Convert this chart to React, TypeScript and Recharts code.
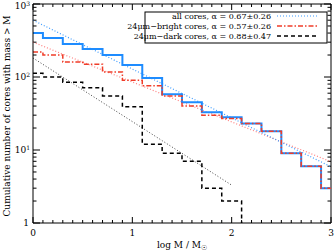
import React from "react";
import {
  LineChart,
  Line,
  XAxis,
  YAxis,
  ReferenceLine,
  Customized,
} from "recharts";

// lower edges of the log M bins (last entry closes the plot)
const binEdges = [0, 0.1, 0.3, 0.5, 0.7, 0.9, 1.1, 1.3, 1.5, 1.7, 1.9, 2.1, 2.3, 2.5, 2.7, 2.9, 3.0];
const allCores = [400, 342, 283, 242, 200, 146, 97, 58, 45, 33, 28, 23, 18, 9, 6, 3, 3];
const brightCores = [220, 200, 160, 150, 117, 90, 76, 55, 40, 30, 27, 23, 18, 9, 6, 3, 3];
const darkEdges = [0, 0.1, 0.3, 0.5, 0.7, 0.9, 1.1, 1.3, 1.5, 1.7, 1.9, 2.1];
const darkCores = [113, 100, 85, 71, 55, 39, 12, 9, 7, 3, 2, 1];

// power-law fits (end points)
const fitX = [0, 3];
const allFit = [600, 5.9];
const brightFit = [300, 6.9];
const darkFitX = [0, 2.0];
const darkFit = [182, 3.3];

const xTicks = [0, 1, 2, 3];
const yTicks = [1, 10, 100, 1000];
const xMinor: number[] = [];
for (let i = 1; i < 30; i++) if (i % 10 !== 0) xMinor.push(i / 10);
const yMinor: number[] = [];
for (const d of [1, 10, 100]) for (let k = 2; k <= 9; k++) yMinor.push(k * d);

const legendRows = [
  { label: "all cores, \u03b1 = 0.67\u00b10.26", color: "#3d9bff", dash: "1 2", width: 1.2 },
  { label: "24\u03bcm\u2212bright cores, \u03b1 = 0.57\u00b10.26", color: "#f03c28", dash: "5 2 1.5 2", width: 1.5 },
  { label: "24\u03bcm\u2212dark cores, \u03b1 = 0.88\u00b10.47", color: "#000", dash: "4 3", width: 1.5 },
];

const toRows = (xs: number[], ns: number[]) => xs.map((x, i) => ({ x, n: ns[i] }));

const FONT = "DejaVu Serif";

// plot box is 298 px wide and 219 px (3 decades) tall
const pxToDex = (px: number) => Math.pow(10, (px * 3) / 219);
const pxToX = (px: number) => (px * 3) / 298;

const YTick = (props: any) => {
  const { x, y, payload } = props;
  const exp = Math.round(Math.log10(payload.value));
  if (exp === 0)
    return (
      <text x={x - 1} y={y + 3} textAnchor="end" fontSize={9} fontFamily={FONT} fill="#000">
        1
      </text>
    );
  return (
    <text x={x} y={Math.max(y + 3, 9)} textAnchor="end" fontSize={9} fontFamily={FONT} fill="#000">
      10
      <tspan dy={-3.5} fontSize={6}>
        {exp}
      </tspan>
    </text>
  );
};

const Extras = () => (
  <g fontFamily={FONT} fill="#000">
    <text transform="translate(10,116) rotate(-90)" textAnchor="middle" fontSize={9}>
      Cumulative number of cores with mass &gt; M
    </text>
    <text x={182} y={248} textAnchor="middle" fontSize={9}>
      log M / M<tspan fontSize={7} dy={2}>{"\u2609"}</tspan>
    </text>
    <rect x={145} y={12} width={182} height={31} fill="#fff" stroke="#000" strokeWidth={1} />
    {legendRows.map((r, i) => (
      <g key={r.label}>
        <text x={271} y={19 + i * 10} textAnchor="end" fontSize={8}>
          {r.label}
        </text>
        <line
          x1={277}
          x2={318}
          y1={16 + i * 10}
          y2={16 + i * 10}
          stroke={r.color}
          strokeWidth={r.width}
          strokeDasharray={r.dash}
        />
      </g>
    ))}
  </g>
);

const tickAxis = { stroke: "#000", strokeWidth: 1 };

const seg = (key: string, a: { x: number; y: number }, b: { x: number; y: number }) => (
  <ReferenceLine
    key={key}
    xAxisId="x"
    yAxisId="y"
    segment={[a, b]}
    stroke="#000"
    strokeWidth={1}
    ifOverflow="visible"
  />
);

const xTickMarks = [
  ...xTicks.map((t) => [t, 6] as const),
  ...xMinor.map((t) => [t, 3] as const),
].flatMap(([t, len]) => [
  seg(`xb${t}`, { x: t, y: 1 }, { x: t, y: pxToDex(len) }),
  seg(`xt${t}`, { x: t, y: 1000 }, { x: t, y: 1000 / pxToDex(len) }),
]);

const yTickMarks = [
  ...yTicks.map((t) => [t, 7] as const),
  ...yMinor.map((t) => [t, 3.5] as const),
].flatMap(([t, len]) => [
  seg(`yl${t}`, { x: 0, y: t }, { x: pxToX(len), y: t }),
  seg(`yr${t}`, { x: 3, y: t }, { x: 3 - pxToX(len), y: t }),
]);

export default function App() {
  return (
    <div style={{ position: "absolute", left: 0, top: 0, fontFamily: FONT }}>
      <LineChart width={334} height={251} margin={{ top: 4, right: 3, left: 0, bottom: 0 }}>
        <XAxis
          xAxisId="x"
          type="number"
          dataKey="x"
          domain={[0, 3]}
          allowDataOverflow
          ticks={xTicks}
          interval={0}
          height={28}
          tickSize={0}
          tickMargin={7}
          tickLine={false}
          axisLine={tickAxis}
          tick={{ fontSize: 9, fontFamily: FONT, fill: "#000" }}
        />
        <YAxis
          yAxisId="y"
          scale="log"
          type="number"
          dataKey="n"
          domain={[1, 1000]}
          allowDataOverflow
          ticks={yTicks}
          interval={0}
          width={33}
          tickSize={0}
          tickMargin={3}
          tickLine={false}
          axisLine={tickAxis}
          tick={<YTick />}
        />

        {xTickMarks}
        {yTickMarks}
        {seg("frameTop", { x: 0, y: 1000 }, { x: 3, y: 1000 })}
        {seg("frameRight", { x: 3, y: 1 }, { x: 3, y: 1000 })}

        <Line xAxisId="x" yAxisId="y" data={toRows(darkFitX, darkFit)} dataKey="n" type="linear"
          stroke="#444" strokeWidth={1} strokeDasharray="1 2" dot={false} isAnimationActive={false} />
        <Line xAxisId="x" yAxisId="y" data={toRows(fitX, brightFit)} dataKey="n" type="linear"
          stroke="#ff7f7f" strokeWidth={1.2} strokeDasharray="1 2" dot={false} isAnimationActive={false} />
        <Line xAxisId="x" yAxisId="y" data={toRows(fitX, allFit)} dataKey="n" type="linear"
          stroke="#3d9bff" strokeWidth={1.2} strokeDasharray="1 2" dot={false} isAnimationActive={false} />
        <Line xAxisId="x" yAxisId="y" data={toRows(darkEdges, darkCores)} dataKey="n" type="stepAfter"
          stroke="#000" strokeWidth={1.5} strokeDasharray="4 3" dot={false} isAnimationActive={false} />
        <Line xAxisId="x" yAxisId="y" data={toRows(binEdges, allCores)} dataKey="n" type="stepAfter"
          stroke="#1e8cff" strokeWidth={2} dot={false} isAnimationActive={false} />
        <Line xAxisId="x" yAxisId="y" data={toRows(binEdges, brightCores)} dataKey="n" type="stepAfter"
          stroke="#f03c28" strokeWidth={1.5} strokeDasharray="5 2 1.5 2" dot={false} isAnimationActive={false} />

        <Customized component={<Extras />} />
      </LineChart>
    </div>
  );
}
